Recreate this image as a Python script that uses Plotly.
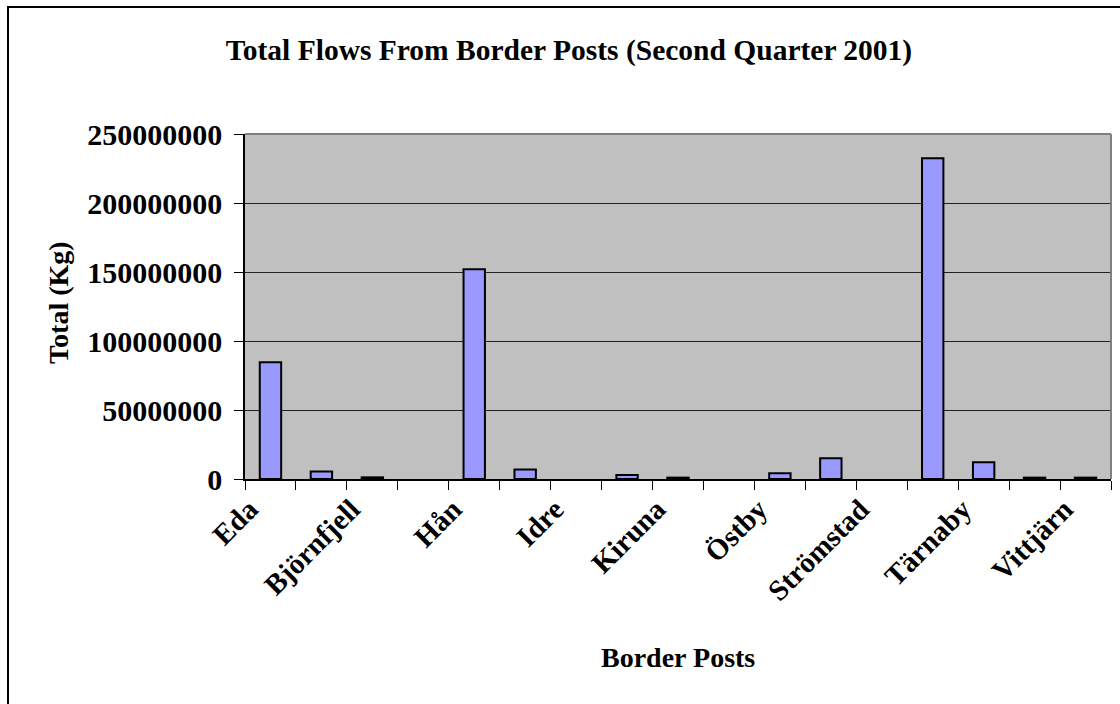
import plotly.graph_objects as go

categories = ["Eda", "Morokulien", "Björnfjell", "Gäddede", "Hån", "Höljes", "Idre",
              "Junsele", "Kiruna", "Långflon", "Östby", "Svinesund", "Strömstad",
              "Storlien", "Tärnaby", "Treriksröset", "Vittjärn"]
totals_kg = [84600000, 5500000, 1200000, None, 152000000, 6800000, None,
             2900000, 1000000, None, 4100000, 15000000, None,
             232500000, 12100000, 1000000, 1000000]
tick_labels = [c if i % 2 == 0 else "" for i, c in enumerate(categories)]
y_ticks = [0, 50000000, 100000000, 150000000, 200000000, 250000000]

FONT = "Times New Roman, Liberation Serif, serif"

fig = go.Figure()
fig.add_trace(go.Bar(
    x=categories, y=totals_kg,
    marker=dict(color="#9999FF", line=dict(color="black", width=2)),
    width=0.42,
))

L, R, T, B = 245, 9, 134, 225
W, H = 1120, 704
pw, ph = W - L - R, H - T - B

fig.update_layout(
    width=W, height=H,
    margin=dict(l=L, r=R, t=T, b=B),
    paper_bgcolor="white",
    plot_bgcolor="#C0C0C0",
    showlegend=False,
    font=dict(family=FONT, color="black"),
    title=dict(text="<b>Total Flows From Border Posts (Second Quarter 2001)</b>",
               font=dict(family=FONT, size=29.5, color="black"),
               x=569 / W, xref="container", xanchor="center",
               y=1 - 50 / H, yref="container", yanchor="middle"),
    xaxis=dict(type="category", tickmode="array", tickvals=categories, ticktext=tick_labels,
               tickson="boundaries", ticks="outside", ticklen=9, tickcolor="black", tickwidth=1,
               tickangle=-45, tickfont=dict(family=FONT, size=29, color="black", weight="bold"),
               ticklabelshift=-21,
               showline=True, linecolor="black", linewidth=1.5, showgrid=False,
               range=[-0.5, len(categories) - 0.5]),
    yaxis=dict(range=[0, 250000000], tickmode="array", tickvals=y_ticks, tickformat="d",
               ticks="outside", ticklen=9, tickcolor="black", tickwidth=1,
               tickfont=dict(family=FONT, size=30, color="black", weight="bold"),
               ticklabelstandoff=6,
               showline=True, linecolor="black", linewidth=1.5,
               showgrid=True, gridcolor="#222222", gridwidth=1, zeroline=False),
    bargap=0.58,
)

fig.add_shape(type="line", xref="paper", yref="paper", x0=0, x1=1, y0=1, y1=1,
              line=dict(color="#808080", width=2))
fig.add_shape(type="line", xref="paper", yref="paper", x0=1, x1=1, y0=0, y1=1,
              line=dict(color="#808080", width=2))
# outer chart border
fig.add_shape(type="rect", xref="paper", yref="paper",
              x0=(8 - L) / pw, x1=(1130 - L) / pw,
              y0=-(715 - (H - B)) / ph, y1=1 + (T - 7) / ph,
              line=dict(color="black", width=2))

fig.add_annotation(text="<b>Total (Kg)</b>", xref="paper", yref="paper",
                   x=(58 - L) / pw, y=((H - B) - 303) / ph, textangle=-90,
                   showarrow=False, font=dict(family=FONT, size=28, color="black"),
                   xanchor="center", yanchor="middle")
fig.add_annotation(text="<b>Border Posts</b>", xref="paper", yref="paper",
                   x=(678 - L) / pw, y=-(657 - (H - B)) / ph,
                   showarrow=False, font=dict(family=FONT, size=28, color="black"),
                   xanchor="center", yanchor="middle")

fig.write_html("out.html")
